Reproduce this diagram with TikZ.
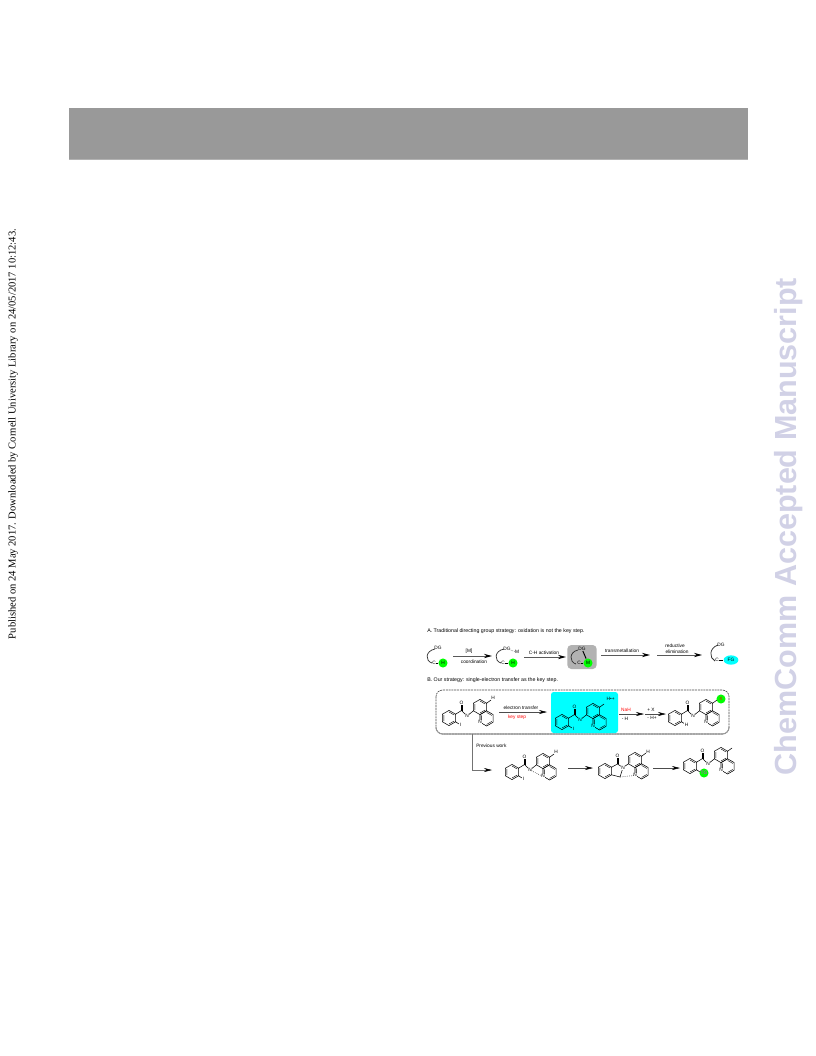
\documentclass[tikz,border=0pt]{standalone}
\usepackage{fontspec}
\setmainfont{Liberation Serif}
\setsansfont{Liberation Sans}
\usetikzlibrary{arrows.meta,shapes.geometric}
\definecolor{purecyan}{RGB}{0,255,255}
\definecolor{puregreen}{RGB}{0,255,0}
\definecolor{puremag}{RGB}{255,0,255}
\definecolor{purered}{RGB}{255,0,0}
\newcommand{\molbg}{white}
\tikzset{
  bond/.style={line width=0.4pt,black},
  dbl/.style={line width=0.3pt,black},
  tiny/.style={font=\sffamily\fontsize{3.6}{4}\selectfont,inner sep=0pt,text=black},
  atom/.style={font=\sffamily\fontsize{3.6}{4}\selectfont,inner sep=0.3pt,text=black,fill=\molbg},
  arrowline/.style={line width=0.6pt,black!65,-{Stealth[length=6pt,width=3.2pt,black]}},
  arrowthin/.style={line width=0.4pt,black!70,-{Stealth[length=6pt,width=3pt,black]}},
  greenspot/.style={circle,fill=puregreen,draw=none,minimum size=6.8pt,inner sep=0pt},
  dgarc/.style={line width=0.55pt,black!80},
  hdr/.style={font=\sffamily\fontsize{3.95}{4}\selectfont,inner sep=0pt,anchor=west,text=black}
}
\newcommand{\hexa}[2]{%
  \draw[bond] (#1,#2-7.6)--(#1+6.6,#2-3.8)--(#1+6.6,#2+3.8)--(#1,#2+7.6)--(#1-6.6,#2+3.8)--(#1-6.6,#2-3.8)--cycle;
  \draw[dbl] (#1,#2-6)--(#1+5.2,#2-3) (#1+5.2,#2+3)--(#1,#2+6) (#1-5.2,#2+3)--(#1-5.2,#2-3);
}
\newcommand{\quin}{%
  \hexa{31}{-11}\hexa{37.6}{0.4}%
  \node[atom] at (31,4.2) {N};
}
\newcommand{\amide}[1]{%
  \hexa{0}{0}\quin
  \draw[bond] (6.6,-3.8)--(12.5,-7.5);
  \draw[bond] (12,-7.5)--(12,-13) (13.2,-7.5)--(13.2,-13);
  \node[atom] at (12.6,-15) {O};
  \draw[bond] (12.5,-7.5)--(18,-2)--(24.4,-7.2);
  \node[atom] at (18,-2) {N};
  \draw[bond] (6.6,3.8)--(10,6);
  \node[atom] at (11.5,7) {#1};
  \draw[bond] (37.6,-14.8)--(42,-18);
}
\begin{document}
\begin{tikzpicture}[x=0.75pt,y=-0.75pt]
\useasboundingbox (0,0) rectangle (816,1056);
\fill[white] (0,0) rectangle (816,1056);
% header bar
\fill[black!40] (69,108) rectangle (748,159);
\draw[black!30,line width=0.4pt] (69,159) -- (748,159);
% margin text
\node[rotate=90,inner sep=0pt,font=\rmfamily\fontsize{7.93}{9}\selectfont,text=black] (published) at (13,434)
  {Published on 24 May 2017. Downloaded by Cornell University Library on 24/05/2017 10:12:43.};
\node[rotate=90,inner sep=0pt,font=\sffamily\bfseries\fontsize{22.9}{26}\selectfont,text={rgb,255:red,209;green,209;blue,230}] (watermark) at (789,526.5)
  {ChemComm Accepted Manuscript};

% section A
\node[hdr] (headA) at (427,631) {A. Traditional directing group strategy: oxidation is not the key step.};
\node[draw=none,fill=black!30,rounded corners=3pt,minimum width=22pt,minimum height=18pt,inner sep=0pt] (grayb) at (582,657) {};

% species 1
\draw[dgarc] (435,649) .. controls (425,651) and (425,661) .. (432,663);
\node[tiny] (dg1) at (438,648) {DG};
\node[tiny] (c1) at (434,663) {C};
\node[greenspot] (g1) at (443,663) {};
\node[tiny] at (443,663) {H};
\draw[bond] (c1) -- (g1);
% arrow 1
\coordinate (a1s) at (453,656); \coordinate (a1e) at (492,656);
\draw[arrowline] (a1s) -- (a1e);
\node[tiny] at (469,651) {[M]};
\node[tiny] at (474,662) {coordination};
% species 2
\draw[dgarc] (504,649) .. controls (494,651) and (494,661) .. (501,663);
\node[tiny] (dg2) at (507,649) {DG};
\node[tiny] (m2) at (517,652) {M};
\draw[bond,densely dotted] (dg2) -- (m2);
\node[tiny] (c2) at (503,663) {C};
\node[greenspot] (g2) at (513,663) {};
\node[tiny] at (513,663) {H};
\draw[bond] (c2) -- (g2);
% arrow 2
\coordinate (a2s) at (524,657); \coordinate (a2e) at (566,657);
\draw[arrowline] (a2s) -- (a2e);
\node[tiny] at (544,653) {C-H activation};
% species 3
\draw[dgarc] (578,650) .. controls (569,652) and (569,662) .. (576,664);
\node[tiny] (dg3) at (582,649) {DG};
\node[greenspot] (m3) at (588,663) {};
\node[tiny] at (588,663) {M};
\node[tiny] (c3) at (579,663) {C};
\draw[line width=0.7pt] (dg3) -- (m3);
\draw[bond] (c3) -- (m3);
% arrow 3
\coordinate (a3s) at (601,655); \coordinate (a3e) at (650,655);
\draw[arrowline] (a3s) -- (a3e);
\node[tiny] at (622,651) {transmetallation};
% arrow 4
\coordinate (a4s) at (657,655); \coordinate (a4e) at (702,655);
\draw[arrowline] (a4s) -- (a4e);
\node[tiny] at (675,646) {reductive};
\node[tiny] at (677,652) {elimination};
% product
\draw[dgarc] (718,645) .. controls (709,648) and (709,658) .. (715,661);
\node[tiny] (dg4) at (721,645) {DG};
\node[tiny] (c4) at (717,660) {C};
\node[ellipse,fill=purecyan,draw=none,minimum width=11pt,minimum height=7pt,inner sep=0pt] (fg) at (731,660) {};
\node[tiny] at (731,660) {FG};
\draw[bond] (c4) -- (fg);

% section B
\node[hdr] (headB) at (427,680) {B. Our strategy: single-electron transfer as the key step.};
\draw[black!70,line width=0.5pt,dash pattern=on 1.5pt off 0.6pt,rounded corners=5pt] (436,690) rectangle (729,734);
\draw[black!40,line width=0.8pt,rounded corners=5pt] (436,728) -- (436,734) -- (729,734) -- (729,728);
\fill[purecyan,rounded corners=2pt] (551,692) rectangle (618,733);

\begin{scope}[shift={(449,718)}]\amide{I}\node[atom] at (44,-20) {H};\end{scope}
\coordinate (b1s) at (499,712); \coordinate (b1e) at (547,712);
\draw[arrowthin] (b1s) -- (b1e);
\node[tiny] at (521,708) {electron transfer};
\node[tiny,text=purered] at (517,717) {key step};

\renewcommand{\molbg}{purecyan}
\begin{scope}[shift={(562,722)}]\amide{I}\node[atom,fill=none,anchor=west] at (44,-23) {H•+};\end{scope}
\renewcommand{\molbg}{white}

\coordinate (b2s) at (619,714); \coordinate (b2e) at (644,714);
\draw[arrowthin] (b2s) -- (b2e);
\node[tiny,text=purered] at (626,710) {NaH};
\node[tiny] at (625,719) {- H};
\coordinate (b3s) at (645,714); \coordinate (b3e) at (666,714);
\draw[arrowthin] (b3s) -- (b3e);
\node[tiny] at (651,710) {+ X};
\node[tiny] at (652,718) {- H+};

\begin{scope}[shift={(675,718)}]\amide{H}\end{scope}
\node[greenspot] (xg) at (721,699) {};
\node[tiny,text=purered] at (721,699) {X};

% previous work
\coordinate (e0) at (472,734); \coordinate (e1) at (472,770); \coordinate (e2) at (492,770);
\draw[arrowthin,black!55] (e0) -- (e1) -- (e2);
\node[tiny,anchor=west] (prev) at (476,746) {Previous work};

\begin{scope}[shift={(512,772)}]\amide{I}\node[atom] at (44,-20) {H};
  \draw[bond,densely dotted] (18,-2)--(30,4);
\end{scope}
\coordinate (c1s) at (568,768); \coordinate (c1e) at (593,768);
\draw[arrowthin] (c1s) -- (c1e);

% cyclised intermediate
\begin{scope}[shift={(605,771)}]
  \hexa{0}{0}\hexa{30}{-11}\hexa{36.6}{0.4}
  \draw[bond] (6.6,-3.8)--(12.5,-7)--(18,-3.5)--(23.4,-7.2);
  \draw[bond] (6.6,3.8)--(15,6)--(18,-3.5);
  \draw[bond] (12,-7)--(12,-13) (13.2,-7)--(13.2,-13);
  \node[atom] at (12.6,-15) {O};
  \node[atom] at (18,-3.5) {N};
  \node[atom] at (30,4.2) {N};
  \draw[bond,densely dotted] (15,6)--(29,4.5);
  \draw[bond] (36.6,-14.8)--(41,-18);
  \node[atom] at (43,-19.5) {H};
\end{scope}
\coordinate (c2s) at (653,768); \coordinate (c2e) at (680,768);
\draw[arrowthin] (c2s) -- (c2e);

\begin{scope}[shift={(690,766)}]\amide{}\end{scope}
\node[greenspot] (tg) at (704,773) {};
\node[tiny,text=puremag] at (704,773) {TG};
\end{tikzpicture}
\end{document}
